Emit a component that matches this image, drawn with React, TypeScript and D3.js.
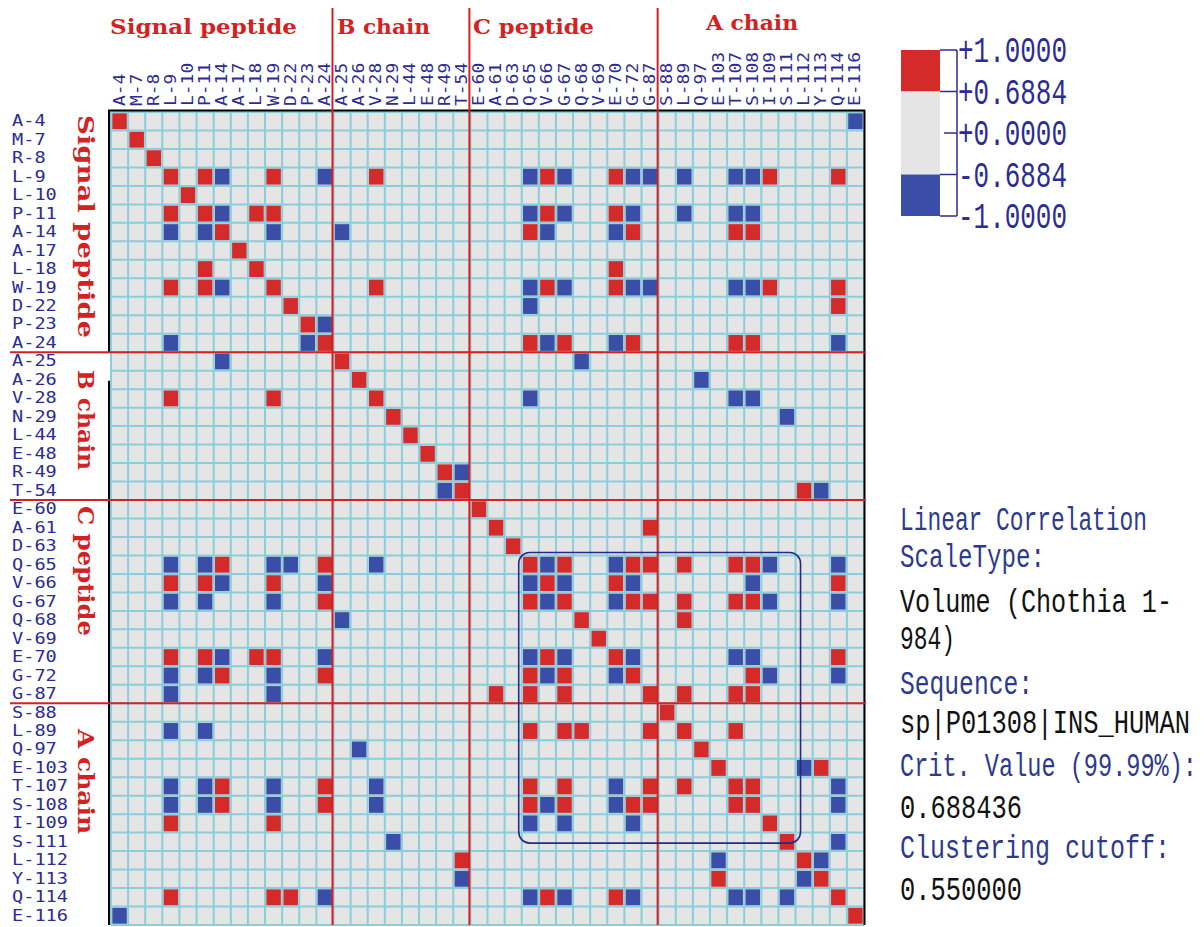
import React from 'react';
import * as d3 from 'd3';

// ---------- DATA ----------
const residues = [
  'A-4', 'M-7', 'R-8', 'L-9', 'L-10', 'P-11', 'A-14', 'A-17', 'L-18', 'W-19', 'D-22', 'P-23', 'A-24',
  'A-25', 'A-26', 'V-28', 'N-29', 'L-44', 'E-48', 'R-49', 'T-54',
  'E-60', 'A-61', 'D-63', 'Q-65', 'V-66', 'G-67', 'Q-68', 'V-69', 'E-70', 'G-72', 'G-87',
  'S-88', 'L-89', 'Q-97', 'E-103', 'T-107', 'S-108', 'I-109', 'S-111', 'L-112', 'Y-113', 'Q-114', 'E-116',
];

const sectionNames = ['Signal peptide', 'B chain', 'C peptide', 'A chain'];
const sectionStart = [0, 13, 21, 32];
const sectionEnd = [12, 20, 31, 43];

// column indices (into residues) with correlation >= +0.6884, per row
const positiveCols: number[][] = [
  [0], [1], [2],
  [3, 5, 9, 15, 25, 29, 38, 42],
  [4],
  [3, 5, 8, 9, 25, 29],
  [6, 24, 30, 36, 37],
  [7],
  [5, 8, 29],
  [3, 5, 9, 15, 25, 29, 38, 42],
  [10, 42],
  [11],
  [12, 24, 26, 30, 36, 37],
  [13], [14],
  [3, 9, 15],
  [16], [17], [18], [19],
  [20, 40],
  [21],
  [22, 31],
  [23],
  [6, 12, 24, 26, 30, 31, 33, 36, 37],
  [3, 5, 9, 25, 29, 42],
  [12, 24, 26, 30, 31, 33, 36, 37],
  [27, 33],
  [28],
  [3, 5, 8, 9, 25, 29, 42],
  [6, 12, 24, 26, 30, 37],
  [22, 24, 26, 31, 33, 36, 37],
  [32],
  [24, 26, 27, 31, 33, 36],
  [34],
  [35, 41],
  [6, 12, 24, 26, 31, 33, 36, 37],
  [6, 12, 24, 26, 30, 31, 36, 37],
  [3, 9, 38],
  [39],
  [20, 40],
  [35, 41],
  [3, 9, 10, 25, 29, 42],
  [43],
];

// column indices with correlation <= -0.6884, per row
const negativeCols: number[][] = [
  [43], [], [],
  [6, 12, 24, 26, 30, 31, 33, 36, 37],
  [],
  [6, 24, 26, 30, 33, 36, 37],
  [3, 5, 9, 13, 25, 29],
  [], [],
  [6, 24, 26, 30, 31, 36, 37],
  [24],
  [12],
  [3, 11, 25, 29, 42],
  [6, 27],
  [34],
  [24, 36, 37],
  [39], [], [],
  [20],
  [19, 41],
  [], [], [],
  [3, 5, 9, 10, 15, 25, 29, 38, 42],
  [6, 12, 24, 26, 30, 37],
  [3, 5, 9, 25, 29, 38, 42],
  [13],
  [],
  [6, 12, 24, 26, 30, 36, 37],
  [3, 5, 9, 25, 29, 38, 42],
  [3, 9],
  [],
  [3, 5],
  [14],
  [40],
  [3, 5, 9, 15, 29, 42],
  [3, 5, 9, 15, 25, 29, 42],
  [24, 26, 30],
  [16, 42],
  [35, 41],
  [20, 40],
  [12, 24, 26, 30, 36, 37, 39],
  [0],
];

const clusterFrom = 24; // Q-65
const clusterTo = 39; // S-111

const legendLabels = ['+1.0000', '+0.6884', '+0.0000', '-0.6884', '-1.0000'];
const critValue = 0.6884;

const infoTexts = [
  'Linear Correlation',
  'ScaleType:',
  'Volume (Chothia 1-',
  '984)',
  'Sequence:',
  'sp|P01308|INS_HUMAN',
  'Crit. Value (99.99%):',
  '0.688436',
  'Clustering cutoff:',
  '0.550000',
];
const infoIsKey = [true, true, false, false, true, false, true, false, true, false];

// ---------- STYLE ----------
const RED = '#d42a2a';
const BLUE = '#3a4ea7';
const GRAY = '#e5e5e5';
const GRID = '#8acddb';
const NAVY = '#2c2c94';
const SECT = '#d42222';
const MONO = '"DejaVu Sans Mono", monospace';
const SIM = '"Liberation Mono", monospace';
const SERIF = '"DejaVu Serif", serif';

const infoY = [530, 567, 612, 649, 694, 733, 776, 818, 858, 900];
const infoW = [247, 145, 272, 55, 133, 290, 297, 122, 270, 122];

export default function App() {
  const n = residues.length;
  const idx = residues.map((_, i) => i);
  const x = d3.scaleBand<number>().domain(idx).range([111, 864]);
  const y = d3.scaleBand<number>().domain(idx).range([112, 925]);
  const bw = x.bandwidth();
  const bh = y.bandwidth();
  const color = d3.scaleThreshold<number, string>().domain([-critValue, critValue]).range([BLUE, GRAY, RED]);

  const cells: { r: number; c: number; v: number }[] = [];
  positiveCols.forEach((cols, r) => cols.forEach((c) => cells.push({ r, c, v: 1 })));
  negativeCols.forEach((cols, r) => cols.forEach((c) => cells.push({ r, c, v: -1 })));

  const xEdge = (i: number) => (i >= n ? 864 : (x(i) as number));
  const yEdge = (i: number) => (i >= n ? 925 : (y(i) as number));

  const ly = d3.scalePoint<string>().domain(legendLabels).range([50, 216]);
  const lyv = legendLabels.map((l) => ly(l) as number);

  const cx0 = xEdge(clusterFrom) - 3;
  const cx1 = xEdge(clusterTo + 1) + 5;
  const cy0 = yEdge(clusterFrom) - 3;
  const cy1 = yEdge(clusterTo + 1) - 8;

  const topTitle = [
    { x0: 110, x1: 297, base: 34 },
    { x0: 337, x1: 430, base: 34 },
    { x0: 473, x1: 594, base: 34 },
    { x0: 706, x1: 798, base: 30 },
  ];
  const sideTitle = [
    { y0: 115, y1: 338 },
    { y0: 370, y1: 470 },
    { y0: 506, y1: 636 },
    { y0: 729, y1: 834 },
  ];

  return (
    <svg
      width={1204}
      height={927}
      style={{ position: 'absolute', left: 0, top: 0, background: '#fff' }}
    >
      {/* grid background */}
      <rect x={111} y={112} width={753} height={813} fill={GRAY} />
      {/* grid lines */}
      {d3.range(n + 1).map((i) => (
        <line key={'v' + i} x1={xEdge(i)} x2={xEdge(i)} y1={112} y2={925} stroke={GRID} strokeWidth={2} />
      ))}
      {d3.range(n + 1).map((i) => (
        <line key={'h' + i} x1={111} x2={864} y1={yEdge(i)} y2={yEdge(i)} stroke={GRID} strokeWidth={2} />
      ))}
      {/* cells */}
      {cells.map((d, i) => (
        <rect
          key={'c' + i}
          x={(x(d.c) as number) + 1.3}
          y={(y(d.r) as number) + 1.3}
          width={bw - 2.6}
          height={bh - 2.6}
          fill={color(d.v)}
        />
      ))}
      {/* black frame */}
      <line x1={108} x2={865} y1={110.5} y2={110.5} stroke="#000" strokeWidth={2} />
      <line x1={109} x2={109} y1={110} y2={yEdge(13)} stroke="#000" strokeWidth={2} />
      <line x1={109} x2={109} y1={yEdge(14) + 10} y2={925} stroke="#000" strokeWidth={2} />
      <line x1={864.5} x2={864.5} y1={110} y2={925} stroke="#000" strokeWidth={2} />

      {/* section separators */}
      {sectionStart.slice(1).map((s) => (
        <g key={'sep' + s}>
          <line x1={xEdge(s) - 1} x2={xEdge(s) - 1} y1={8} y2={925} stroke={SECT} strokeWidth={2} />
          <line x1={10} x2={866} y1={yEdge(s)} y2={yEdge(s)} stroke={SECT} strokeWidth={2} />
        </g>
      ))}

      {/* cluster box */}
      <rect
        x={cx0}
        y={cy0}
        width={cx1 - cx0}
        height={cy1 - cy0}
        rx={11}
        ry={11}
        fill="none"
        stroke="#262a86"
        strokeWidth={1.6}
      />

      {/* column labels */}
      {residues.map((r, i) => (
        <text
          key={'cl' + i}
          transform={`translate(${(x(i) as number) + bw / 2},106) rotate(-90)`}
          fontFamily={MONO}
          fontSize={15}
          fill={NAVY}
          dominantBaseline="central"
          textLength={r.length * 10.8}
          lengthAdjust="spacingAndGlyphs"
        >
          {r}
        </text>
      ))}
      {/* row labels */}
      {residues.map((r, i) => (
        <text
          key={'rl' + i}
          x={12}
          y={(y(i) as number) + bh / 2}
          fontFamily={MONO}
          fontSize={15}
          fill={NAVY}
          dominantBaseline="central"
          textLength={r.length * 11.2}
          lengthAdjust="spacingAndGlyphs"
        >
          {r}
        </text>
      ))}

      {/* section titles */}
      {sectionNames.map((s, i) => (
        <text
          key={'st' + i}
          x={topTitle[i].x0}
          y={topTitle[i].base}
          fontFamily={SERIF}
          fontWeight="bold"
          fontSize={21}
          fill={SECT}
          textLength={topTitle[i].x1 - topTitle[i].x0}
          lengthAdjust="spacingAndGlyphs"
        >
          {s}
        </text>
      ))}
      {sectionNames.map((s, i) => (
        <text
          key={'ss' + i}
          transform={`translate(86,${(sideTitle[i].y0 + sideTitle[i].y1) / 2}) rotate(90)`}
          fontFamily={SERIF}
          fontWeight="bold"
          fontSize={22}
          fill={SECT}
          textAnchor="middle"
          dominantBaseline="central"
          textLength={sideTitle[i].y1 - sideTitle[i].y0}
          lengthAdjust="spacingAndGlyphs"
        >
          {s}
        </text>
      ))}

      {/* legend */}
      <rect x={901} y={lyv[0]} width={39} height={lyv[1] - lyv[0]} fill={RED} />
      <rect x={901} y={lyv[1]} width={39} height={lyv[3] - lyv[1]} fill={GRAY} />
      <rect x={901} y={lyv[3]} width={39} height={lyv[4] - lyv[3]} fill={BLUE} />
      <line x1={957} x2={957} y1={lyv[0]} y2={lyv[4]} stroke={NAVY} strokeWidth={1.5} />
      {legendLabels.map((l, i) => (
        <g key={'lg' + i}>
          <line x1={i === 2 ? 944 : 940} x2={957} y1={lyv[i]} y2={lyv[i]} stroke={NAVY} strokeWidth={1.5} />
          <g transform={`translate(958,${lyv[i] + 12}) scale(1,1.45)`}>
            <text
              x={0}
              y={0}
              fontFamily={SIM}
              fontSize={26}
              fill={NAVY}
              textLength={109}
              lengthAdjust="spacingAndGlyphs"
            >
              {l}
            </text>
          </g>
        </g>
      ))}

      {/* info text */}
      {infoTexts.map((t, i) => (
        <g key={'in' + i} transform={`translate(900,${infoY[i]}) scale(1,1.4)`}>
          <text
            x={0}
            y={0}
            fontFamily={SIM}
            fontSize={24}
            fill={infoIsKey[i] ? '#2d3a8e' : '#111'}
            textLength={infoW[i]}
            lengthAdjust="spacingAndGlyphs"
          >
            {t}
          </text>
        </g>
      ))}
    </svg>
  );
}
